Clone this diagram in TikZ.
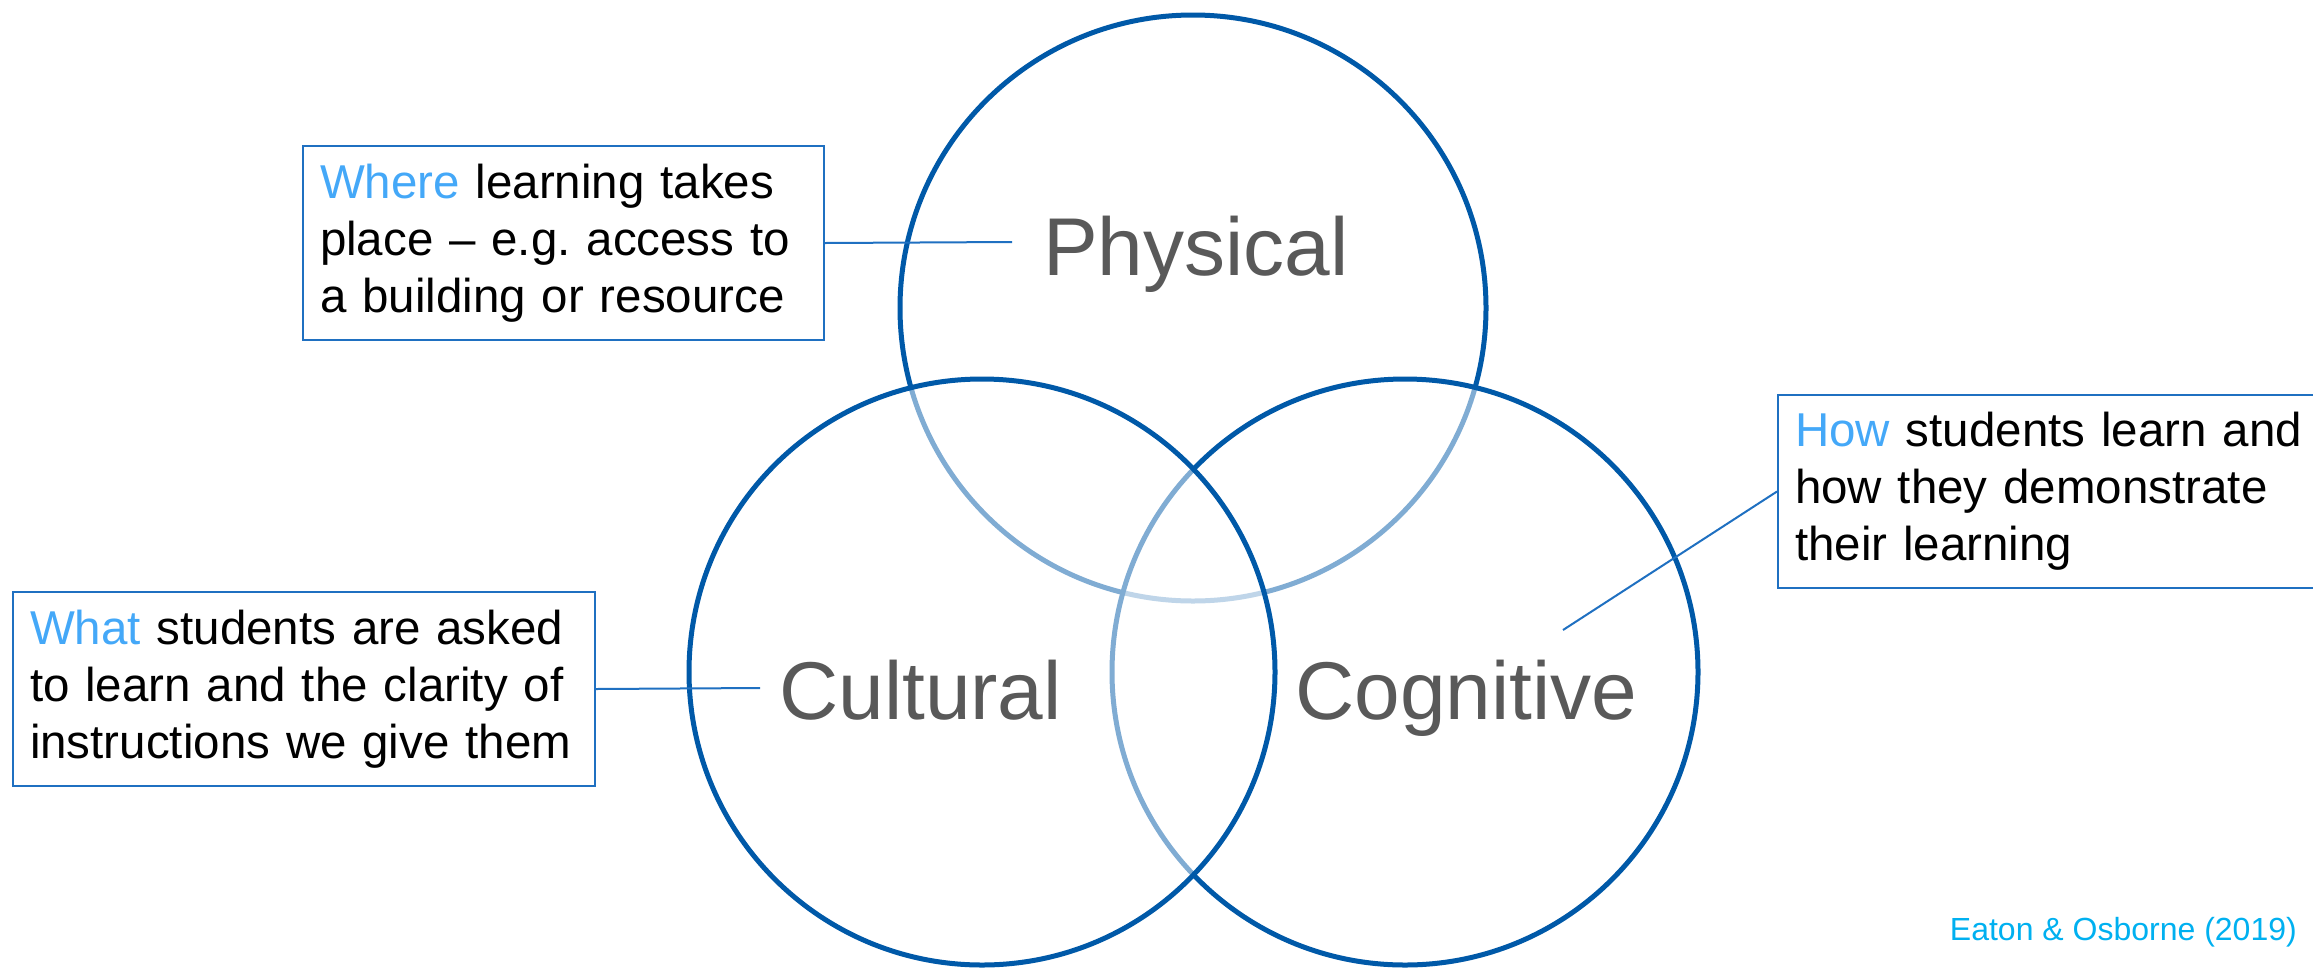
\documentclass[tikz,border=0pt]{standalone}
\usepackage{fontspec}
\setmainfont{Liberation Sans}
\frenchspacing

\definecolor{ringblue}{HTML}{0059A8}
\definecolor{boxblue}{HTML}{1F70C1}
\definecolor{keyblue}{HTML}{44A8F8}
\definecolor{lblgrey}{HTML}{595959}
\definecolor{citeblue}{HTML}{00B0F0}

\tikzset{
    ring/.style={circle, draw=ringblue, line width=5pt, fill=white, fill opacity=.5,
        minimum size=586pt, inner sep=0pt},
    infobox/.style={draw=boxblue, line width=2pt, anchor=north west, align=left,
        inner xsep=17pt, inner ysep=0pt, font=\fontsize{47.5}{57}\selectfont},
    ringlbl/.style={anchor=base west, inner sep=0pt, text=lblgrey,
        font=\fontsize{82}{98}\selectfont},
    link/.style={draw=boxblue, line width=2pt},
}

\begin{document}
\begin{tikzpicture}[x=1pt, y=-1pt]
    \useasboundingbox (0,0) rectangle (2313,970);

    \node[ring] (physical) at (1193,308) {};
    \node[ring] (cognitive) at (1405,672) {};
    \node[ring] (cultural) at (982,672) {};

    \node[ringlbl] (physical-lbl) at (1043,275) {Physical};
    \node[ringlbl] (cultural-lbl) at (779,719) {Cultural};
    \node[ringlbl] (cognitive-lbl) at (1295,719) {Cognitive};

    \node[infobox, text width=487pt, minimum height=194pt] (where) at (302,145)
        {\textcolor{keyblue}{Where} learning takes\\place – e.g. access to\\a building or resource};
    \node[infobox, text width=548pt, minimum height=194pt] (what) at (12,591)
        {\textcolor{keyblue}{What} students are asked\\to learn and the clarity of\\instructions we give them};
    \node[infobox, text width=519pt, minimum height=193pt] (how) at (1777,394)
        {\textcolor{keyblue}{How} students learn and\\how they demonstrate\\their learning};

    \coordinate (where-end) at (1012,242);
    \coordinate (what-end) at (760,688);
    \coordinate (how-end) at (1563,630);

    \draw[link] (where.east) -- (where-end);
    \draw[link] (what.east) -- (what-end);
    \draw[link] (how.west) -- (how-end);

    \node[anchor=base east, inner sep=0pt, text=citeblue, font=\fontsize{32}{38}\selectfont]
        (source) at (2297,940) {Eaton \& Osborne (2019)};
\end{tikzpicture}
\end{document}
